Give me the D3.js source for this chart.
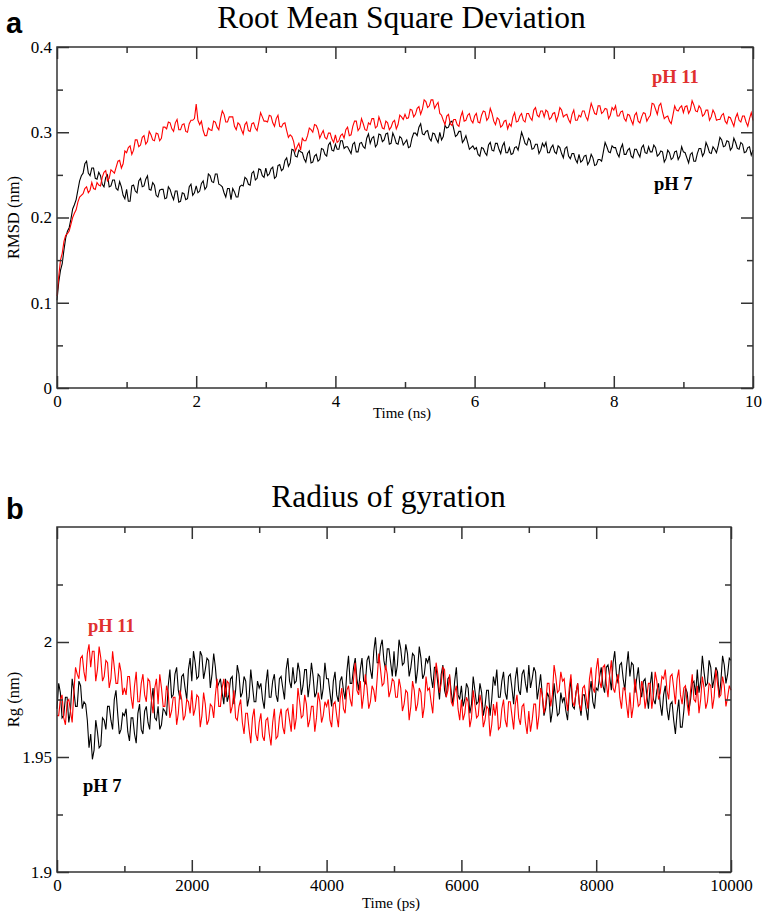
<!DOCTYPE html>
<html><head><meta charset="utf-8">
<script src="https://cdn.jsdelivr.net/npm/d3@7"></script>
<style>body{margin:0;background:#fff} svg{display:block}</style>
</head><body><svg id="chart" width="768" height="921"></svg>
<script>
// ---------- DATA ----------
// Panel a: RMSD (nm), sampled every 0.025 ns from 0 to 10 ns
const rmsdStepNs = 0.025;
const rmsdPH7 = [
0.103,0.124,0.138,0.146,0.162,0.176,0.184,0.188,0.198,0.210,0.215,0.221,0.232,0.243,0.249,0.252,0.263,0.266,0.252,0.249,
0.258,0.258,0.246,0.245,0.253,0.249,0.239,0.236,0.247,0.250,0.236,0.237,0.244,0.244,0.234,0.232,0.242,0.236,0.226,0.222,
0.233,0.219,0.219,0.237,0.238,0.231,0.229,0.243,0.246,0.236,0.237,0.245,0.249,0.233,0.232,0.241,0.238,0.226,0.224,0.232,
0.233,0.233,0.222,0.223,0.236,0.233,0.226,0.221,0.231,0.231,0.218,0.219,0.229,0.228,0.221,0.222,0.236,0.239,0.226,0.229,
0.237,0.229,0.231,0.240,0.243,0.233,0.236,0.251,0.249,0.242,0.241,0.251,0.251,0.239,0.238,0.236,0.229,0.224,0.234,0.234,
0.221,0.234,0.230,0.224,0.224,0.236,0.238,0.237,0.247,0.245,0.239,0.238,0.252,0.254,0.244,0.246,0.257,0.256,0.249,0.247,
0.258,0.249,0.251,0.257,0.259,0.246,0.248,0.261,0.262,0.255,0.257,0.267,0.270,0.260,0.264,0.280,0.279,0.272,0.271,0.279,
0.277,0.276,0.269,0.265,0.275,0.278,0.264,0.265,0.272,0.274,0.266,0.268,0.281,0.280,0.274,0.272,0.285,0.288,0.279,0.278,
0.286,0.280,0.280,0.290,0.290,0.281,0.283,0.283,0.279,0.275,0.286,0.288,0.277,0.277,0.287,0.288,0.283,0.281,0.293,0.298,
0.287,0.293,0.295,0.283,0.286,0.298,0.297,0.289,0.291,0.298,0.299,0.286,0.287,0.299,0.294,0.287,0.286,0.295,0.293,0.285,
0.288,0.291,0.282,0.283,0.293,0.299,0.299,0.296,0.306,0.310,0.298,0.297,0.301,0.302,0.293,0.290,0.299,0.298,0.292,0.288,
0.300,0.291,0.295,0.308,0.305,0.306,0.312,0.313,0.304,0.295,0.297,0.301,0.301,0.288,0.291,0.296,0.288,0.280,0.282,0.284,
0.280,0.282,0.274,0.272,0.282,0.281,0.276,0.273,0.285,0.288,0.279,0.278,0.287,0.287,0.280,0.275,0.284,0.288,0.276,0.276,
0.282,0.274,0.275,0.282,0.283,0.279,0.289,0.300,0.294,0.287,0.285,0.293,0.290,0.280,0.281,0.286,0.286,0.275,0.279,0.287,
0.283,0.288,0.276,0.276,0.282,0.285,0.277,0.275,0.284,0.282,0.275,0.270,0.281,0.283,0.272,0.269,0.275,0.275,0.268,0.264,
0.274,0.265,0.267,0.272,0.273,0.262,0.266,0.274,0.270,0.261,0.262,0.268,0.268,0.266,0.277,0.288,0.283,0.277,0.276,0.284,
0.282,0.282,0.275,0.271,0.281,0.286,0.274,0.274,0.279,0.281,0.272,0.270,0.280,0.280,0.275,0.271,0.282,0.285,0.276,0.275,
0.283,0.277,0.277,0.285,0.282,0.272,0.274,0.278,0.277,0.265,0.269,0.279,0.276,0.268,0.270,0.277,0.278,0.268,0.272,0.283,
0.277,0.276,0.270,0.264,0.274,0.276,0.266,0.266,0.275,0.281,0.281,0.272,0.276,0.288,0.283,0.276,0.275,0.283,0.280,0.276,
0.284,0.294,0.291,0.283,0.284,0.290,0.289,0.279,0.282,0.293,0.288,0.281,0.280,0.288,0.286,0.276,0.277,0.282,0.283,0.273,0.279];
const rmsdPH11 = [
0.108,0.131,0.150,0.158,0.172,0.179,0.181,0.184,0.192,0.200,0.205,0.209,0.218,0.224,0.226,0.228,0.234,0.236,0.229,0.232,
0.241,0.234,0.233,0.241,0.238,0.237,0.247,0.253,0.255,0.243,0.246,0.256,0.254,0.252,0.259,0.266,0.267,0.258,0.263,0.278,
0.276,0.282,0.284,0.274,0.279,0.291,0.291,0.283,0.285,0.294,0.296,0.286,0.289,0.301,0.297,0.291,0.290,0.299,0.298,0.290,
0.293,0.306,0.306,0.304,0.312,0.311,0.304,0.301,0.311,0.315,0.303,0.303,0.309,0.310,0.301,0.300,0.310,0.314,0.314,0.316,
0.333,0.314,0.309,0.313,0.302,0.296,0.296,0.305,0.303,0.302,0.313,0.312,0.306,0.303,0.316,0.325,0.321,0.312,0.312,0.318,
0.318,0.318,0.307,0.303,0.311,0.309,0.303,0.298,0.309,0.312,0.302,0.301,0.310,0.311,0.305,0.302,0.312,0.323,0.318,0.313,
0.313,0.312,0.320,0.319,0.311,0.307,0.316,0.320,0.307,0.306,0.310,0.311,0.302,0.294,0.297,0.295,0.289,0.278,0.283,0.287,
0.279,0.293,0.290,0.290,0.296,0.305,0.303,0.300,0.309,0.308,0.303,0.293,0.298,0.302,0.294,0.292,0.299,0.299,0.292,0.288,
0.297,0.288,0.290,0.296,0.298,0.293,0.303,0.306,0.296,0.297,0.307,0.313,0.313,0.302,0.305,0.316,0.310,0.303,0.302,0.311,
0.309,0.316,0.316,0.305,0.307,0.318,0.312,0.305,0.304,0.313,0.311,0.303,0.306,0.312,0.314,0.304,0.309,0.320,0.318,0.315,
0.321,0.316,0.317,0.327,0.326,0.318,0.321,0.328,0.330,0.321,0.327,0.338,0.336,0.329,0.331,0.338,0.338,0.328,0.332,0.335,
0.322,0.320,0.314,0.309,0.319,0.321,0.310,0.308,0.315,0.315,0.309,0.307,0.318,0.324,0.313,0.314,0.320,0.322,0.314,0.311,
0.319,0.322,0.312,0.311,0.320,0.325,0.324,0.314,0.317,0.328,0.322,0.313,0.309,0.317,0.315,0.306,0.308,0.313,0.314,0.304,
0.310,0.307,0.318,0.323,0.312,0.313,0.319,0.322,0.314,0.312,0.322,0.322,0.317,0.314,0.326,0.329,0.320,0.318,0.325,0.325,
0.318,0.326,0.324,0.315,0.317,0.322,0.323,0.313,0.319,0.329,0.326,0.318,0.320,0.321,0.315,0.311,0.321,0.326,0.314,0.314,
0.320,0.318,0.325,0.325,0.318,0.314,0.324,0.334,0.328,0.322,0.321,0.331,0.331,0.322,0.324,0.328,0.327,0.316,0.320,0.329,
0.326,0.331,0.319,0.319,0.324,0.325,0.316,0.313,0.321,0.320,0.314,0.309,0.320,0.323,0.313,0.311,0.318,0.323,0.322,0.313,
0.317,0.320,0.334,0.333,0.327,0.321,0.331,0.334,0.324,0.316,0.318,0.319,0.313,0.310,0.320,0.331,0.326,0.325,0.329,0.331,
0.323,0.330,0.331,0.322,0.326,0.337,0.332,0.325,0.324,0.331,0.328,0.319,0.321,0.326,0.326,0.314,0.318,0.326,0.322,0.314,
0.315,0.315,0.320,0.322,0.313,0.310,0.318,0.317,0.312,0.307,0.317,0.322,0.314,0.312,0.319,0.319,0.312,0.307,0.316,0.323,0.314];

// Panel b: Radius of gyration (nm), sampled every 25 ps from 0 to 10000 ps
const rgStepPs = 25;
const rgPH7 = [
1.971,1.982,1.978,1.967,1.968,1.976,1.976,1.965,1.970,1.984,1.979,1.972,1.972,1.983,1.981,1.971,1.974,1.973,1.966,1.954,
1.960,1.949,1.953,1.966,1.961,1.954,1.955,1.967,1.966,1.962,1.972,1.972,1.966,1.962,1.975,1.979,1.969,1.960,1.962,1.969,
1.968,1.971,1.961,1.957,1.967,1.967,1.960,1.956,1.969,1.973,1.962,1.960,1.970,1.972,1.965,1.962,1.974,1.980,1.967,1.966,
1.972,1.962,1.964,1.971,1.970,1.968,1.981,1.988,1.976,1.977,1.986,1.989,1.979,1.975,1.985,1.986,1.980,1.975,1.988,1.993,
1.983,1.996,1.991,1.984,1.985,1.996,1.994,1.984,1.988,1.993,1.992,1.980,1.986,1.995,1.989,1.980,1.982,1.984,1.978,1.973,
1.984,1.974,1.977,1.984,1.985,1.973,1.979,1.990,1.986,1.976,1.978,1.985,1.983,1.972,1.976,1.988,1.981,1.974,1.974,1.983,
1.980,1.982,1.975,1.971,1.982,1.988,1.976,1.976,1.983,1.986,1.977,1.974,1.984,1.985,1.980,1.975,1.988,1.993,1.983,1.980,
1.989,1.982,1.983,1.991,1.987,1.977,1.981,1.988,1.988,1.976,1.982,1.991,1.985,1.976,1.978,1.986,1.985,1.975,1.980,1.991,
1.984,1.984,1.978,1.972,1.983,1.987,1.977,1.974,1.983,1.985,1.979,1.975,1.987,1.994,1.982,1.982,1.989,1.993,1.984,1.979,
1.988,1.993,1.983,1.982,1.992,1.994,1.988,1.984,1.996,2.002,1.991,1.991,1.998,2.001,1.992,1.988,1.997,1.997,1.991,1.985,
1.996,1.985,1.990,2.001,1.997,1.990,1.991,1.999,1.995,1.985,1.989,1.995,1.994,1.982,1.988,1.998,1.993,1.984,1.986,1.993,
1.991,1.994,1.985,1.980,1.989,1.989,1.982,1.975,1.986,1.990,1.979,1.976,1.984,1.985,1.978,1.973,1.983,1.989,1.977,1.975,
1.981,1.972,1.975,1.982,1.980,1.969,1.973,1.985,1.979,1.973,1.974,1.982,1.978,1.968,1.972,1.979,1.979,1.968,1.975,1.985,
1.981,1.988,1.976,1.976,1.983,1.987,1.978,1.975,1.985,1.986,1.980,1.973,1.984,1.989,1.979,1.977,1.986,1.988,1.982,1.978,
1.990,1.980,1.984,1.989,1.987,1.975,1.980,1.986,1.977,1.968,1.971,1.978,1.976,1.965,1.970,1.982,1.975,1.968,1.969,1.978,
1.974,1.976,1.970,1.966,1.977,1.984,1.972,1.971,1.978,1.982,1.973,1.968,1.977,1.977,1.971,1.966,1.978,1.983,1.974,1.971,
1.980,1.979,1.985,1.989,1.981,1.978,1.989,1.990,1.985,1.979,1.991,1.996,1.986,1.982,1.990,1.991,1.984,1.979,1.989,1.996,
1.985,1.991,1.990,1.978,1.984,1.989,1.980,1.976,1.983,1.984,1.977,1.971,1.981,1.987,1.975,1.973,1.979,1.982,1.973,1.968,
1.977,1.981,1.971,1.966,1.973,1.974,1.966,1.960,1.969,1.975,1.963,1.963,1.970,1.980,1.978,1.970,1.975,1.982,1.983,1.977,
1.988,1.978,1.983,1.994,1.987,1.981,1.982,1.992,1.989,1.980,1.984,1.989,1.987,1.976,1.983,1.994,1.990,1.982,1.986,1.993,1.992];
const rgPH11 = [
1.968,1.968,1.975,1.977,1.967,1.964,1.974,1.975,1.970,1.965,1.978,1.989,1.986,1.984,1.993,1.994,1.987,1.983,1.995,1.999,
1.989,1.996,1.996,1.983,1.988,1.998,1.993,1.983,1.985,1.992,1.991,1.980,1.984,1.996,1.989,1.982,1.982,1.991,1.987,1.977,
1.980,1.977,1.985,1.985,1.976,1.971,1.981,1.987,1.974,1.974,1.982,1.986,1.977,1.974,1.984,1.983,1.975,1.969,1.980,1.984,
1.973,1.986,1.980,1.972,1.972,1.981,1.978,1.967,1.970,1.976,1.976,1.964,1.969,1.979,1.975,1.966,1.968,1.975,1.974,1.969,
1.979,1.968,1.971,1.977,1.976,1.963,1.968,1.978,1.973,1.964,1.966,1.973,1.972,1.967,1.977,1.984,1.972,1.972,1.980,1.984,
1.976,1.983,1.982,1.969,1.972,1.979,1.967,1.966,1.972,1.975,1.965,1.960,1.969,1.969,1.962,1.956,1.967,1.971,1.960,1.957,
1.965,1.969,1.959,1.957,1.966,1.967,1.960,1.955,1.965,1.971,1.958,1.959,1.967,1.971,1.963,1.960,1.970,1.971,1.966,1.961,
1.973,1.962,1.967,1.980,1.974,1.967,1.968,1.977,1.973,1.963,1.966,1.972,1.972,1.961,1.967,1.978,1.974,1.965,1.968,1.974,
1.972,1.975,1.966,1.963,1.973,1.974,1.968,1.963,1.975,1.980,1.971,1.969,1.979,1.981,1.975,1.972,1.984,1.991,1.979,1.977,
1.983,1.971,1.977,1.986,1.980,1.971,1.974,1.981,1.979,1.974,1.984,1.995,1.988,1.981,1.982,1.990,1.986,1.976,1.979,1.984,
1.983,1.976,1.976,1.984,1.980,1.970,1.973,1.979,1.978,1.966,1.972,1.983,1.979,1.970,1.973,1.980,1.978,1.967,1.972,1.985,
1.979,1.980,1.974,1.969,1.981,1.991,1.986,1.978,1.982,1.989,1.988,1.976,1.979,1.986,1.974,1.972,1.978,1.981,1.971,1.966,
1.975,1.966,1.969,1.976,1.974,1.963,1.967,1.979,1.973,1.967,1.968,1.977,1.973,1.963,1.966,1.972,1.971,1.959,1.964,1.973,
1.968,1.974,1.962,1.963,1.971,1.975,1.966,1.963,1.974,1.974,1.968,1.962,1.973,1.977,1.967,1.964,1.972,1.973,1.965,1.960,
1.970,1.961,1.966,1.973,1.973,1.962,1.968,1.980,1.977,1.969,1.973,1.982,1.982,1.972,1.977,1.990,1.985,1.978,1.979,1.987,
1.983,1.984,1.976,1.970,1.980,1.986,1.974,1.972,1.978,1.982,1.973,1.970,1.980,1.981,1.976,1.971,1.984,1.989,1.980,1.978,
1.988,1.993,1.983,1.980,1.989,1.990,1.982,1.976,1.986,1.992,1.980,1.978,1.983,1.986,1.976,1.971,1.980,1.980,1.973,1.967,
1.978,1.967,1.972,1.984,1.978,1.972,1.973,1.983,1.980,1.971,1.976,1.982,1.982,1.971,1.977,1.987,1.983,1.975,1.978,1.985,
1.984,1.988,1.979,1.975,1.985,1.986,1.980,1.973,1.984,1.988,1.977,1.973,1.980,1.981,1.973,1.968,1.979,1.986,1.975,1.974,
1.981,1.969,1.975,1.985,1.980,1.971,1.974,1.982,1.981,1.971,1.976,1.988,1.982,1.976,1.977,1.985,1.981,1.972,1.976,1.981,1.979];

// Tick values
const rmsdXMajor = [0, 2, 4, 6, 8, 10];
const rmsdXMinor = [1, 3, 5, 7, 9];
const rmsdYMajor = [0, 0.1, 0.2, 0.3, 0.4];
const rmsdYMinor = [0.05, 0.15, 0.25, 0.35];
const rgXMajor = [0, 2000, 4000, 6000, 8000, 10000];
const rgXMinor = [1000, 3000, 5000, 7000, 9000];
const rgYMajor = [1.9, 1.95, 2];
const rgYMinor = [1.925, 1.975, 2.025];

// ---------- DRAWING ----------
const svg = d3.select("#chart");
const SERIF = "'Liberation Serif','Times New Roman',serif";
const SANS = "'Liberation Sans',Arial,sans-serif";
const AXIS_COLOR = "#333";
const RED = "#ff0000";
const LABEL_RED = "#e0302f";

function panel(cfg) {
  const g = svg.append("g");
  const x = d3.scaleLinear().domain(cfg.xDomain).range([cfg.left, cfg.right]);
  const y = d3.scaleLinear().domain(cfg.yDomain).range([cfg.bottom, cfg.top]);

  // lines
  const line = step => d3.line().x((d, i) => x(i * step)).y(d => y(d));
  g.append("path").datum(cfg.series[0]).attr("d", line(cfg.step))
    .attr("fill", "none").attr("stroke", "#000").attr("stroke-width", 1.1);
  g.append("path").datum(cfg.series[1]).attr("d", line(cfg.step))
    .attr("fill", "none").attr("stroke", RED).attr("stroke-width", 1.1);

  // axes (inward ticks on all four sides)
  const styleAxis = sel => {
    sel.select(".domain").remove();
    sel.selectAll("line").attr("stroke", AXIS_COLOR).attr("stroke-width", 1.5);
    sel.selectAll("text").attr("font-family", SERIF).attr("font-size", 17).attr("fill", "#000");
  };
  g.append("g").attr("transform", `translate(0,${cfg.bottom})`)
    .call(d3.axisBottom(x).tickValues(cfg.xMajor).tickSize(-12).tickPadding(7).tickFormat(d3.format("~g")))
    .call(styleAxis);
  g.append("g").attr("transform", `translate(0,${cfg.bottom})`)
    .call(d3.axisBottom(x).tickValues(cfg.xMinor).tickSize(-6).tickFormat(""))
    .call(styleAxis);
  g.append("g").attr("transform", `translate(0,${cfg.top})`)
    .call(d3.axisTop(x).tickValues(cfg.xMajor).tickSize(-12).tickFormat(""))
    .call(styleAxis);
  g.append("g").attr("transform", `translate(0,${cfg.top})`)
    .call(d3.axisTop(x).tickValues(cfg.xMinor).tickSize(-6).tickFormat(""))
    .call(styleAxis);
  const yl = g.append("g").attr("transform", `translate(${cfg.left},0)`)
    .call(d3.axisLeft(y).tickValues(cfg.yMajor).tickSize(-12).tickPadding(5).tickFormat(d3.format("~g")))
    .call(styleAxis);
  g.append("g").attr("transform", `translate(${cfg.left},0)`)
    .call(d3.axisLeft(y).tickValues(cfg.yMinor).tickSize(-6).tickFormat(""))
    .call(styleAxis);
  g.append("g").attr("transform", `translate(${cfg.right},0)`)
    .call(d3.axisRight(y).tickValues(cfg.yMajor).tickSize(-12).tickFormat(""))
    .call(styleAxis);
  g.append("g").attr("transform", `translate(${cfg.right},0)`)
    .call(d3.axisRight(y).tickValues(cfg.yMinor).tickSize(-6).tickFormat(""))
    .call(styleAxis);
  if (cfg.sansTick !== undefined) {
    yl.selectAll(".tick").filter(d => d === cfg.sansTick).select("text")
      .attr("font-family", SANS).attr("font-size", 15);
  }

  // frame
  g.append("rect").attr("x", cfg.left).attr("y", cfg.top)
    .attr("width", cfg.right - cfg.left).attr("height", cfg.bottom - cfg.top)
    .attr("fill", "none").attr("stroke", AXIS_COLOR).attr("stroke-width", 1.5);

  // titles & labels
  g.append("text").attr("x", cfg.titleX).attr("y", cfg.titleY).attr("text-anchor", "middle")
    .attr("font-family", SERIF).attr("font-size", 31.5).text(cfg.title);
  g.append("text").attr("x", 6).attr("y", cfg.letterY)
    .attr("font-family", SANS).attr("font-weight", "bold").attr("font-size", 29).text(cfg.letter);
  g.append("text").attr("x", (cfg.left + cfg.right) / 2 - 3).attr("y", cfg.xLabelY).attr("text-anchor", "middle")
    .attr("font-family", SERIF).attr("font-size", 15).text(cfg.xLabel);
  g.append("text").attr("transform", `translate(19,${(cfg.top + cfg.bottom) / 2}) rotate(-90)`)
    .attr("text-anchor", "middle").attr("font-family", SERIF).attr("font-size", 16.5).text(cfg.yLabel);

  cfg.tags.forEach(t => {
    g.append("text").attr("x", t.x).attr("y", t.y)
      .attr("font-family", SERIF).attr("font-weight", "bold").attr("font-size", 18.5)
      .attr("fill", t.color).text(t.text);
  });
}

panel({
  left: 57, right: 753, top: 47, bottom: 388,
  xDomain: [0, 10], yDomain: [0, 0.4],
  step: rmsdStepNs, series: [rmsdPH7, rmsdPH11],
  xMajor: rmsdXMajor, xMinor: rmsdXMinor, yMajor: rmsdYMajor, yMinor: rmsdYMinor,
  title: "Root Mean Square Deviation", titleX: 401.5, titleY: 28,
  letter: "a", letterY: 33,
  xLabel: "Time (ns)", xLabelY: 418, yLabel: "RMSD (nm)",
  tags: [
    {text: "pH 11", x: 652, y: 83, color: LABEL_RED},
    {text: "pH 7", x: 654, y: 190, color: "#000"}
  ]
});

panel({
  left: 57, right: 731, top: 527, bottom: 872,
  xDomain: [0, 10000], yDomain: [1.9, 2.05],
  step: rgStepPs, series: [rgPH7, rgPH11],
  xMajor: rgXMajor, xMinor: rgXMinor, yMajor: rgYMajor, yMinor: rgYMinor,
  sansTick: 2,
  title: "Radius of gyration", titleX: 388.5, titleY: 507,
  letter: "b", letterY: 519,
  xLabel: "Time (ps)", xLabelY: 908, yLabel: "Rg (nm)",
  tags: [
    {text: "pH 11", x: 88, y: 632, color: LABEL_RED},
    {text: "pH 7", x: 83, y: 792, color: "#000"}
  ]
});
</script>
</body></html>
